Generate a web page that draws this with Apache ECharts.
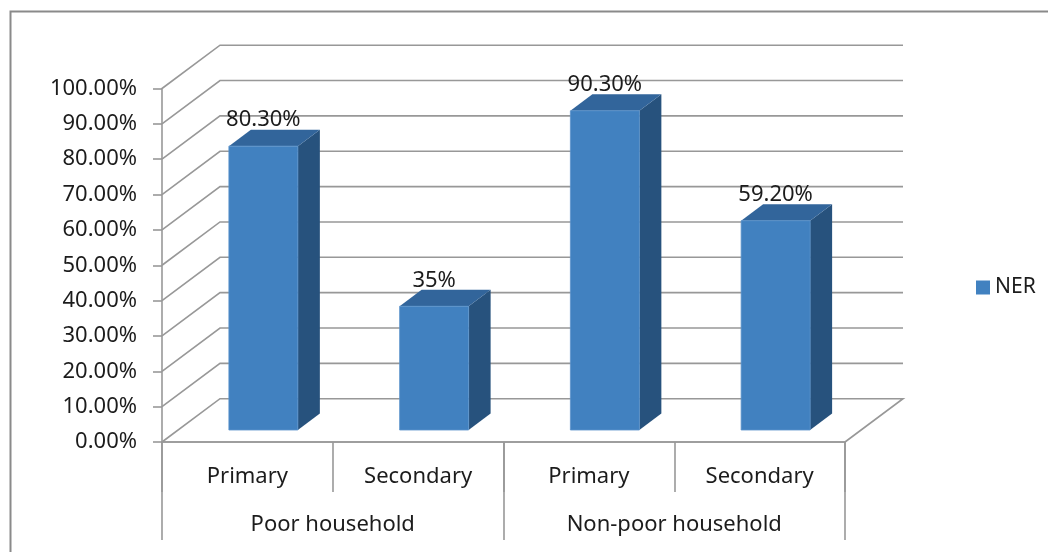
<!DOCTYPE html>
<html>
<head>
<meta charset="utf-8">
<script src="https://cdn.jsdelivr.net/npm/echarts@6/dist/echarts.min.js"></script>
<style>
  html, body { margin: 0; padding: 0; background: #fff; }
  #chart { width: 1048px; height: 552px; }
</style>
</head>
<body>
<div id="chart"></div>
<script>
// Net enrolment rate by school level and household type
const levels = ['Primary', 'Secondary', 'Primary', 'Secondary'];
const households = ['Poor household', 'Non-poor household'];
const nerValues = [0.803, 0.35, 0.903, 0.592];
const valueLabels = ['80.30%', '35%', '90.30%', '59.20%'];
const yTicks = [0, 0.1, 0.2, 0.3, 0.4, 0.5, 0.6, 0.7, 0.8, 0.9, 1.0];

// oblique projection used for the pseudo-3D walls and bars
const WALL_DEPTH = [58, -43.3];   // front plane -> back wall
const BAR_SHIFT = [16, -12];      // front plane -> bar front face
const BAR_DEPTH = [22, -16.5];    // bar front face -> bar back face
const BAR_WIDTH_RATIO = 0.404;

const GRID_COLOR = '#989898';
const FRONT = '#4181c0', TOP = '#32659b', SIDE = '#27527d';
const FONT = 'Noto Sans';
const TEXT = '#1c1c1c';

const chart = echarts.init(document.getElementById('chart'), null, { renderer: 'canvas' });

function wallLines(params, api) {
  const cs = params.coordSys;
  const v = api.value(1);
  const y = api.coord([0, v])[1];
  const x0 = cs.x, x1 = cs.x + cs.width;
  const pts = [[x0, y], [x0 + WALL_DEPTH[0], y + WALL_DEPTH[1]], [x1 + WALL_DEPTH[0], y + WALL_DEPTH[1]]];
  if (v === 0) pts.push([x1, y]);
  return {
    type: 'polyline',
    shape: { points: pts },
    style: { stroke: GRID_COLOR, lineWidth: 1.6, fill: null },
    silent: true
  };
}

function bar3d(params, api) {
  const idx = api.value(0);
  const top = api.coord([idx, api.value(1)]);
  const base = api.coord([idx, 0]);
  const band = api.size([1, 0])[0];
  const w = band * BAR_WIDTH_RATIO;
  const xl = top[0] - w / 2 + BAR_SHIFT[0];
  const xr = xl + w;
  const yt = top[1] + BAR_SHIFT[1];
  const yb = base[1] + BAR_SHIFT[1];
  const dx = BAR_DEPTH[0], dy = BAR_DEPTH[1];
  return {
    type: 'group',
    children: [
      { type: 'polygon', shape: { points: [[xr, yt], [xr + dx, yt + dy], [xr + dx, yb + dy], [xr, yb]] },
        style: { fill: SIDE } },
      { type: 'polygon', shape: { points: [[xl, yt], [xl + dx, yt + dy], [xr + dx, yt + dy], [xr, yt]] },
        style: { fill: TOP } },
      { type: 'rect', shape: { x: xl, y: yt, width: w, height: yb - yt },
        style: { fill: FRONT, stroke: '#5b93cc', lineWidth: 0.8 } },
      { type: 'text', x: (xl + xr) / 2, y: yt + dy - 9.5,
        style: { text: valueLabels[idx], fill: TEXT, font: '22px "' + FONT + '"',
                 align: 'center', verticalAlign: 'middle' } }
    ]
  };
}

const option = {
  animation: false,
  backgroundColor: '#ffffff',
  textStyle: { fontFamily: FONT },
  graphic: [{
    type: 'rect', left: 8, top: 9, shape: { width: 1100, height: 600 },
    style: { fill: null, stroke: '#8a8a8a', lineWidth: 2 }, silent: true
  }],
  legend: {
    data: ['NER'], left: 971, top: 272, icon: 'rect', itemWidth: 14, itemHeight: 14,
    itemGap: 6, textStyle: { fontSize: 21, color: TEXT, fontFamily: FONT }
  },
  grid: { left: 162, right: 203, top: 88.5, bottom: 110, containLabel: false },
  xAxis: [{
    type: 'category', data: levels, gridIndex: 0, position: 'bottom',
    axisLine: { show: true, lineStyle: { color: GRID_COLOR, width: 1.6 } },
    axisTick: { show: true, length: 50, lineStyle: { color: GRID_COLOR, width: 1.6 } },
    axisLabel: { fontSize: 22, color: TEXT, margin: 24, fontFamily: FONT },
    splitLine: { show: false }
  }, {
    type: 'category', data: households, gridIndex: 0, position: 'bottom',
    axisLine: { show: true, lineStyle: { color: GRID_COLOR, width: 1.6 } },
    axisTick: { show: true, length: 98, lineStyle: { color: GRID_COLOR, width: 1.6 } },
    axisLabel: { fontSize: 22, color: TEXT, margin: 72, fontFamily: FONT },
    splitLine: { show: false }
  }],
  yAxis: {
    type: 'value', min: 0, max: 1, interval: 0.1,
    axisLine: { show: true, lineStyle: { color: GRID_COLOR, width: 1.6 } },
    axisTick: { show: true, length: 9, lineStyle: { color: GRID_COLOR, width: 1.6 } },
    axisLabel: { fontSize: 22, color: TEXT, margin: 25, fontFamily: FONT,
                 formatter: v => (v * 100).toFixed(2) + '%' },
    splitLine: { show: false }
  },
  series: [{
    type: 'custom', name: 'walls', renderItem: wallLines, z: 1, silent: true,
    data: yTicks.map(v => [0, v]), encode: { x: 0, y: 1 }
  }, {
    type: 'custom', name: 'NER', renderItem: bar3d, z: 3,
    itemStyle: { color: FRONT },
    data: nerValues.map((v, i) => [i, v]), encode: { x: 0, y: 1 }
  }]
};

chart.setOption(option);
</script>
</body>
</html>
